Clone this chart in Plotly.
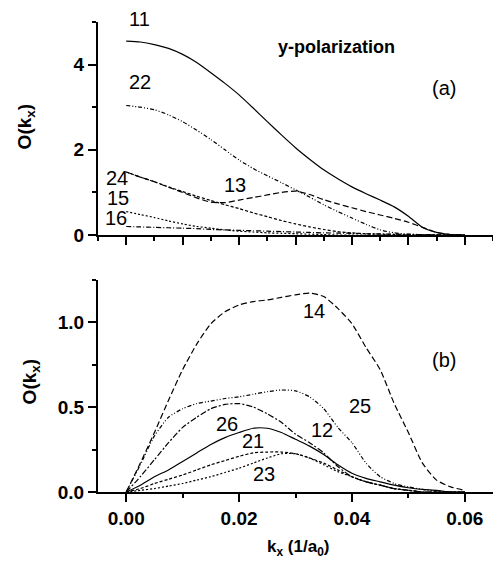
import plotly.graph_objects as go

# common k_x grid (1/a0)
kx = [0.0, 0.0025, 0.005, 0.0075, 0.01, 0.0125, 0.015, 0.0175, 0.02, 0.0225,
      0.025, 0.0275, 0.03, 0.0325, 0.035, 0.0375, 0.04, 0.0425, 0.045, 0.0475,
      0.05, 0.0525, 0.055, 0.0575, 0.06]

# ---- panel (a): y-polarization ----
a11 = [4.55, 4.53, 4.47, 4.38, 4.24, 4.05, 3.81, 3.56, 3.29, 2.98,
       2.66, 2.35, 2.05, 1.78, 1.53, 1.32, 1.13, 0.97, 0.82, 0.66,
       0.44, 0.18, 0.06, 0.01, 0.0]
a22 = [3.04, 3.00, 2.94, 2.82, 2.66, 2.46, 2.24, 2.00, 1.76, 1.56,
       1.39, 1.23, 1.06, 0.89, 0.71, 0.55, 0.40, 0.25, 0.12, 0.05,
       0.02, 0.01, 0.0, 0.0, 0.0]
a13 = [1.48, 1.36, 1.25, 1.12, 1.00, 0.87, 0.77, 0.76, 0.82, 0.88,
       0.94, 1.00, 1.03, 0.95, 0.83, 0.73, 0.64, 0.55, 0.47, 0.39,
       0.30, 0.18, 0.06, 0.01, 0.0]
a24 = [1.48, 1.36, 1.25, 1.13, 1.02, 0.91, 0.81, 0.71, 0.62, 0.52,
       0.43, 0.34, 0.26, 0.19, 0.13, 0.08, 0.05, 0.03, 0.02, 0.01,
       0.0, 0.0, 0.0, 0.0, 0.0]
a15 = [0.55, 0.48, 0.41, 0.33, 0.26, 0.20, 0.16, 0.12, 0.09, 0.07,
       0.05, 0.04, 0.03, 0.02, 0.01, 0.0, 0.0, 0.0, 0.0, 0.0,
       0.0, 0.0, 0.0, 0.0, 0.0]
a16 = [0.20, 0.19, 0.18, 0.17, 0.16, 0.15, 0.13, 0.12, 0.11, 0.10,
       0.09, 0.08, 0.07, 0.06, 0.05, 0.045, 0.04, 0.03, 0.025, 0.02,
       0.015, 0.01, 0.005, 0.0, 0.0]

# ---- panel (b) ----
b14 = [0.0, 0.17, 0.35, 0.54, 0.72, 0.87, 0.99, 1.06, 1.10, 1.12,
       1.13, 1.145, 1.16, 1.17, 1.15, 1.08, 0.99, 0.85, 0.72, 0.52,
       0.35, 0.17, 0.07, 0.03, 0.01]
b25 = [0.0, 0.16, 0.33, 0.44, 0.49, 0.52, 0.535, 0.55, 0.56, 0.575,
       0.59, 0.60, 0.595, 0.56, 0.49, 0.38, 0.29, 0.17, 0.09, 0.05,
       0.03, 0.015, 0.005, 0.0, 0.0]
b12 = [0.0, 0.09, 0.19, 0.29, 0.38, 0.44, 0.49, 0.515, 0.52, 0.50,
       0.46, 0.41, 0.34, 0.29, 0.23, 0.15, 0.09, 0.06, 0.04, 0.02,
       0.01, 0.0, 0.0, 0.0, 0.0]
b26 = [0.0, 0.04, 0.09, 0.13, 0.18, 0.23, 0.28, 0.32, 0.35, 0.375,
       0.375, 0.35, 0.31, 0.27, 0.22, 0.16, 0.11, 0.08, 0.06, 0.04,
       0.025, 0.015, 0.01, 0.0, 0.0]
b21 = [0.0, 0.02, 0.05, 0.075, 0.10, 0.13, 0.16, 0.185, 0.21, 0.23,
       0.235, 0.235, 0.225, 0.20, 0.17, 0.13, 0.09, 0.06, 0.04, 0.02,
       0.01, 0.0, 0.0, 0.0, 0.0]
b23 = [0.0, 0.01, 0.02, 0.035, 0.05, 0.07, 0.09, 0.115, 0.14, 0.17,
       0.20, 0.225, 0.225, 0.20, 0.16, 0.12, 0.09, 0.06, 0.04, 0.02,
       0.01, 0.0, 0.0, 0.0, 0.0]

# tick values
x_ticks_b = [0.0, 0.02, 0.04, 0.06]
y_ticks_a = [0, 2, 4]
y_ticks_b = [0.0, 0.5, 1.0]

# curve labels: (text, kx, value)
labels_a = [("22", 0.0025, 3.6), ("24", -0.0017, 1.33),
            ("15", -0.0014, 0.88), ("16", -0.0018, 0.41), ("13", 0.0193, 1.17)]
labels_b = [("14", 0.0333, 1.065), ("25", 0.0414, 0.506), ("12", 0.0347, 0.365),
            ("26", 0.0179, 0.40), ("21", 0.0225, 0.30), ("23", 0.0244, 0.106)]

FONT = "Liberation Sans, Arial, sans-serif"
DD = "4px,2px,1px,2px,1px,2px"      # dash-dot-dot
DASH = "6px,3px"
SHORT = "3px,2px"
DOT = "2px,2px"
DASHDOT = "5px,2px,1px,2px"

fig = go.Figure()

def add(x, y, dash, xa, ya, name):
    fig.add_trace(go.Scatter(x=x, y=y, mode="lines", name=name, xaxis=xa, yaxis=ya,
                             line=dict(color="black", width=1.2, dash=dash, shape="spline",
                                       smoothing=0.6),
                             showlegend=False))

add(kx, a11, "solid", "x2", "y2", "11")
add(kx, a22, DD, "x2", "y2", "22")
add(kx, a13, DASH, "x2", "y2", "13")
add(kx, a24, SHORT, "x2", "y2", "24")
add(kx, a15, DOT, "x2", "y2", "15")
add(kx, a16, DASHDOT, "x2", "y2", "16")

add(kx, b14, DASH, "x", "y", "14")
add(kx, b25, DD, "x", "y", "25")
add(kx, b12, "6px,2px,2px,2px", "x", "y", "12")
add(kx, b26, "solid", "x", "y", "26")
add(kx, b21, SHORT, "x", "y", "21")
add(kx, b23, DOT, "x", "y", "23")

LBL = dict(family=FONT, size=20, color="black")
C = dict(showarrow=False, xanchor="center", yanchor="middle")
ann = []
ann.append(dict(text="11", x=0.0023, y=1.0074, xref="x2", yref="paper", font=LBL, **C))
for t, x, y in labels_a:
    ann.append(dict(text=t, x=x, y=y, xref="x2", yref="y2", font=LBL, **C))
for t, x, y in labels_b:
    ann.append(dict(text=t, x=x, y=y, xref="x", yref="y", font=LBL, **C))
ann.append(dict(text="<b>y-polarization</b>", x=0.0373, y=4.42, xref="x2", yref="y2",
                font=dict(family=FONT, size=18, color="black"), **C))
ann.append(dict(text="(a)", x=0.0563, y=3.46, xref="x2", yref="y2", font=LBL, **C))
ann.append(dict(text="(b)", x=0.0563, y=0.776, xref="x", yref="y", font=LBL, **C))
ann.append(dict(text="<b>O(k<sub>x</sub>)</b>", x=-0.182, y=0.776, xref="paper", yref="paper",
                textangle=-90, font=dict(family=FONT, size=19, color="black"), **C))
ann.append(dict(text="<b>O(k<sub>x</sub>)</b>", x=-0.17, y=0.235, xref="paper", yref="paper",
                textangle=-90, font=dict(family=FONT, size=19, color="black"), **C))
ann.append(dict(text="<b>k<sub>x</sub> (1/a<sub>0</sub>)</b>", x=0.0305, y=-0.119, xref="x", yref="paper",
                font=dict(family=FONT, size=17, color="black"), **C))

axis_common = dict(showline=True, linecolor="black", linewidth=2, ticks="outside",
                   ticklen=8, tickwidth=2, tickcolor="black", showgrid=False, zeroline=False,
                   automargin=False,
                   tickfont=dict(family=FONT, size=19, color="black", weight="bold"))

fig.update_layout(
    width=493, height=564,
    margin=dict(l=98, r=0, t=22, b=72),
    paper_bgcolor="white", plot_bgcolor="white",
    annotations=ann,
    xaxis=dict(domain=[0, 1], anchor="y", range=[-0.005, 0.065], tickvals=x_ticks_b,
               tickformat=".2f",
               minor=dict(dtick=0.01, tick0=0, ticks="outside", ticklen=4, tickwidth=2,
                          tickcolor="black"),
               **axis_common),
    yaxis=dict(domain=[0, 0.4521], anchor="x", range=[0, 1.25], tickvals=y_ticks_b,
               tickformat=".1f",
               minor=dict(dtick=0.25, tick0=0, ticks="outside", ticklen=4, tickwidth=2,
                          tickcolor="black"),
               **axis_common),
    xaxis2=dict(domain=[0, 1], anchor="y2", range=[-0.005, 0.065], dtick=0.01, tick0=0,
                showticklabels=False,
                minor=dict(dtick=0.005, tick0=0, ticks="outside", ticklen=4, tickwidth=2,
                           tickcolor="black"),
                **axis_common),
    yaxis2=dict(domain=[0.5468, 1], anchor="x2", range=[0, 5], tickvals=y_ticks_a,
                minor=dict(dtick=1, tick0=0, ticks="outside", ticklen=4, tickwidth=2,
                           tickcolor="black"),
                **axis_common),
)

fig.write_html("out.html", config={"displayModeBar": False},
               post_script="document.body.style.margin='0px';")
